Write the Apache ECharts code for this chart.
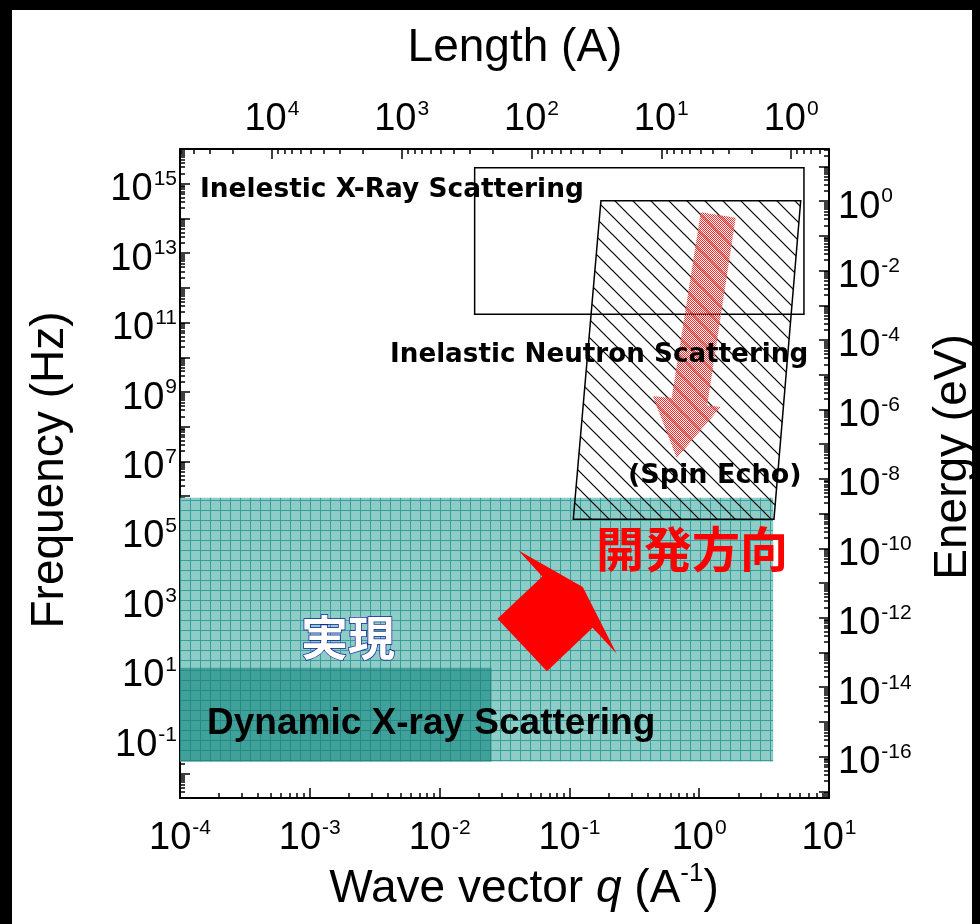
<!DOCTYPE html>
<html><head><meta charset="utf-8">
<script src="https://cdn.jsdelivr.net/npm/echarts@6/dist/echarts.min.js"></script>
<style>html,body{margin:0;padding:0;background:#000;}#c{width:980px;height:924px;}</style>
</head><body><div id="c"></div>
<script>
// ---- axis ranges (log10 units) ----
const qRange = [-4, 1];          // log10 wave vector q (A^-1)
const fRange = [-2.69, 16];      // log10 frequency (Hz)
const lengthOffset = 0.708;      // log10 Length = lengthOffset - log10 q
const energyOffset = 14.5;       // log10 Energy = log10 f - energyOffset

// ---- tick labels (exponents) ----
const qLabels = [-4, -3, -2, -1, 0, 1];
const lengthLabels = [4, 3, 2, 1, 0];
const freqLabels = [-1, 1, 3, 5, 7, 9, 11, 13, 15];
const energyLabels = [0, -2, -4, -6, -8, -10, -12, -14, -16];

// ---- regions, vertices as [log10 q, log10 f] ----
const dxsRegion = [[-4, -1.64], [0.57, -1.64], [0.57, 5.96], [-4, 5.96]];
const dxsRealized = [[-4, -1.64], [-1.6, -1.64], [-1.6, 1.06], [-4, 1.06]];
const ixsRegion = [[-1.73, 11.24], [0.807, 11.24], [0.807, 15.46], [-1.73, 15.46]];
const insRegion = [[-0.757, 14.51], [0.782, 14.51], [0.576, 5.34], [-0.970, 5.34]];
const insArrow = [[0.012, 14.18], [0.281, 14.02], [0.062, 8.62], [0.166, 8.57], [-0.173, 7.10], [-0.358, 8.89], [-0.212, 8.83]];
const devArrow = [[-1.392, 4.44], [-0.897, 3.39], [-0.637, 1.47], [-0.821, 2.21], [-1.173, 0.96], [-1.554, 2.47], [-1.209, 3.69]];

// ---- helpers ----
function majors(lo, hi) { const o = []; for (let n = Math.ceil(lo); n <= Math.floor(hi); n++) o.push(n); return o; }
function minors(lo, hi) {
  const o = [];
  for (let n = Math.floor(lo) - 1; n <= Math.ceil(hi); n++)
    for (let m = 2; m <= 9; m++) { const v = n + Math.log10(m); if (v > lo && v < hi) o.push(v); }
  return o;
}
function powLabel(v) { return '{b|10}{s|' + Math.round(v) + '}'; }
const FONT = '"Liberation Sans", Arial, sans-serif';
const rich = {
  b: { fontSize: 38, fontFamily: FONT, color: '#000', lineHeight: 50, verticalAlign: 'bottom' },
  s: { fontSize: 21, fontFamily: FONT, color: '#000', lineHeight: 21, verticalAlign: 'top', padding: [10, 0, 0, 1] }
};
const tickLine = { color: '#000', width: 1.5 };

function makeAxis(position, min, max, inverse, labels, margin) {
  return [
    { type: 'value', position, min, max, inverse,
      axisLine: { show: true, onZero: false, lineStyle: { color: '#000', width: 2 } },
      axisTick: { show: true, inside: true, length: 10, lineStyle: tickLine, customValues: majors(min, max) },
      axisLabel: { show: true, customValues: labels, formatter: powLabel, rich, margin, showMinLabel: true, showMaxLabel: true, hideOverlap: false },
      splitLine: { show: false }, minorTick: { show: false } },
    { type: 'value', position, min, max, inverse,
      axisLine: { show: false, onZero: false },
      axisTick: { show: true, inside: true, length: 5, lineStyle: tickLine, customValues: minors(min, max) },
      axisLabel: { show: false }, splitLine: { show: false } }
  ];
}

// ---- patterns ----
function canvasOf(w, h, draw) { const c = document.createElement('canvas'); c.width = w; c.height = h; draw(c.getContext('2d')); return c; }
const gridPattern = (bg, line) => ({ image: canvasOf(10, 10, g => { g.fillStyle = bg; g.fillRect(0, 0, 10, 10); g.fillStyle = line; g.fillRect(0, 0, 10, 1); g.fillRect(0, 0, 1, 10); }), repeat: 'repeat' });
const hatchPattern = { image: canvasOf(18, 18, g => { g.strokeStyle = '#000'; g.lineWidth = 1.2; g.beginPath(); g.moveTo(-2, -2); g.lineTo(20, 20); g.moveTo(-2, 16); g.lineTo(2, 20); g.moveTo(16, -2); g.lineTo(20, 2); g.stroke(); }), repeat: 'repeat' };
const pinkPattern = { image: canvasOf(2, 2, g => { g.fillStyle = '#ff2a2a'; g.fillRect(0, 0, 1, 1); g.fillRect(1, 1, 1, 1); }), repeat: 'repeat' };

function poly(name, pts, style, z) {
  return { type: 'custom', name, coordinateSystem: 'cartesian2d', xAxisIndex: 0, yAxisIndex: 0, z, silent: true, clip: false,
    data: [[0, 0]],
    renderItem: (params, api) => ({ type: 'polygon', shape: { points: pts.map(p => api.coord(p)) }, style }) };
}

const chart = echarts.init(document.getElementById('c'), null, { renderer: 'canvas' });
chart.setOption({
  animation: false,
  backgroundColor: '#000',
  grid: { left: 180, top: 149, width: 649, height: 649, containLabel: false, outerBoundsMode: 'none' },
  xAxis: [
    ...makeAxis('bottom', qRange[0], qRange[1], false, qLabels, 10),
    ...makeAxis('top', lengthOffset - qRange[1], lengthOffset - qRange[0], true, lengthLabels, 10)
  ],
  yAxis: [
    ...makeAxis('left', fRange[0], fRange[1], false, freqLabels, 3),
    ...makeAxis('right', fRange[0] - energyOffset, fRange[1] - energyOffset, false, energyLabels, 9)
  ],
  series: [
    poly('Dynamic X-ray Scattering', dxsRegion, { fill: gridPattern('#8fcbc7', '#35a099') }, 1),
    poly('realized', dxsRealized, { fill: gridPattern('#40a09a', '#268a84') }, 2),
    poly('Inelastic X-Ray Scattering', ixsRegion, { fill: 'none', stroke: '#000', lineWidth: 1.5 }, 3),
    poly('Inelastic Neutron Scattering', insRegion, { fill: hatchPattern, stroke: '#000', lineWidth: 1.5 }, 4),
    poly('neutron trend', insArrow, { fill: pinkPattern }, 5),
    poly('development direction', devArrow, { fill: '#ff0000' }, 6)
  ],
  graphic: [
    { type: 'rect', z: -100, silent: true, shape: { x: 12, y: 10, width: 960, height: 914 }, style: { fill: '#fff' } },
    { type: 'text', z: 100, x: 515, y: 48, style: { text: 'Length (A)', font: '46px ' + FONT, fill: '#000', align: 'center', verticalAlign: 'middle' } },
    { type: 'text', z: 100, x: 524, y: 884, style: { text: '{a|Wave vector }{i|q}{a| (A}{s|-1}{a|)}', align: 'center', verticalAlign: 'middle',
        rich: { a: { font: '46px ' + FONT, fill: '#000', lineHeight: 56, verticalAlign: 'bottom' }, i: { font: 'italic 46px ' + FONT, fill: '#000', lineHeight: 56, verticalAlign: 'bottom' }, s: { font: '26px ' + FONT, fill: '#000', lineHeight: 26, verticalAlign: 'top', padding: [5, 0, 0, 0] } } } },
    { type: 'text', z: 100, x: 50, y: 470, rotation: Math.PI / 2, style: { text: 'Frequency (Hz)', font: '46px ' + FONT, fill: '#000', align: 'center', verticalAlign: 'middle' } },
    { type: 'text', z: 100, x: 953, y: 457, rotation: Math.PI / 2, style: { text: 'Energy (eV)', font: '46px ' + FONT, fill: '#000', align: 'center', verticalAlign: 'middle' } },
    { type: 'text', z: 100, x: 200, y: 190, style: { text: 'Inelestic X-Ray Scattering', font: 'bold 26.4px "DejaVu Sans"', fill: '#000', verticalAlign: 'middle' } },
    { type: 'text', z: 100, x: 390, y: 355, style: { text: 'Inelastic Neutron Scattering', font: 'bold 26.2px "DejaVu Sans"', fill: '#000', verticalAlign: 'middle' } },
    { type: 'text', z: 100, x: 628, y: 476, style: { text: '(Spin Echo)', font: 'bold 27px "DejaVu Sans"', fill: '#000', verticalAlign: 'middle' } },
    { type: 'text', z: 100, x: 207, y: 724, style: { text: 'Dynamic X-ray Scattering', font: 'bold 37px ' + FONT, fill: '#000', verticalAlign: 'middle' } },
    { type: 'text', z: 100, x: 301, y: 637, style: { text: '実現', font: 'bold 47px "Noto Sans CJK JP"', fill: '#fff', stroke: '#16229a', lineWidth: 1.5, shadowColor: '#16229a', shadowOffsetX: 3, shadowOffsetY: 3, shadowBlur: 0, verticalAlign: 'middle' } },
    { type: 'text', z: 100, x: 596, y: 549, style: { text: '開発方向', font: 'bold 48px "Noto Sans CJK JP"', fill: '#ff0000', verticalAlign: 'middle' } }
  ]
});
</script></body></html>
